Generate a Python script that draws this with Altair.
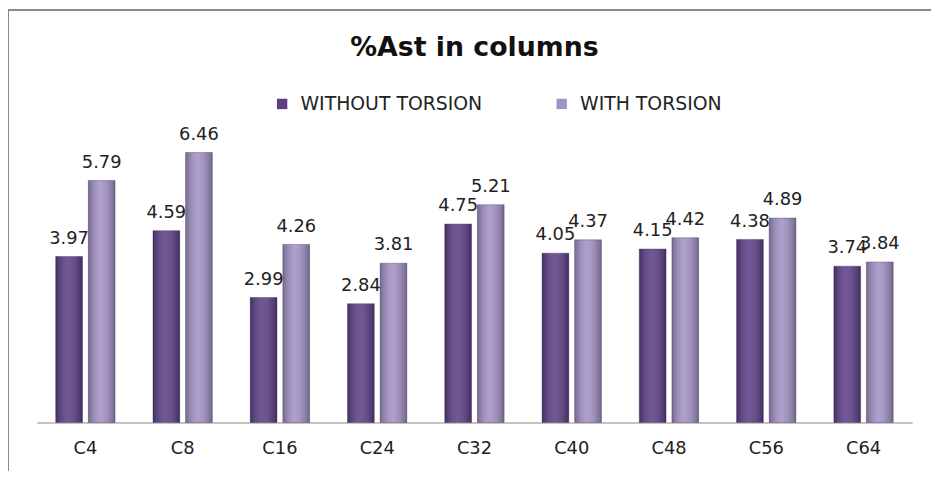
import altair as alt
import pandas as pd

categories = ["C4", "C8", "C16", "C24", "C32", "C40", "C48", "C56", "C64"]
without_torsion = [3.97, 4.59, 2.99, 2.84, 4.75, 4.05, 4.15, 4.38, 3.74]
with_torsion = [5.79, 6.46, 4.26, 3.81, 5.21, 4.37, 4.42, 4.89, 3.84]
series_names = ["WITHOUT TORSION", "WITH TORSION"]
series_colors = ["#5d3f88", "#a392c6"]

rows = []
for c, a, b in zip(categories, without_torsion, with_torsion):
    rows.append({"col": c, "series": series_names[0], "value": a})
    rows.append({"col": c, "series": series_names[1], "value": b})
df = pd.DataFrame(rows)

FONT = "DejaVu Sans"

x_enc = alt.X("col:N", sort=categories, title=None,
              scale=alt.Scale(paddingInner=0.39, paddingOuter=0.195),
              axis=alt.Axis(labelAngle=0, ticks=False, domainColor="#b0b0b0",
                            domainWidth=1.5, labelFontSize=18, labelColor="#222",
                            labelFont=FONT, labelPadding=17, grid=False))
xo_enc = alt.XOffset("series:N", sort=series_names,
                     scale=alt.Scale(domain=series_names, paddingInner=0.18, paddingOuter=0))
y_enc = alt.Y("value:Q", scale=alt.Scale(domain=[0, 7]), axis=None)

base = alt.Chart(df)

bars = base.mark_bar(stroke="#3a2a55", strokeWidth=0.6, strokeOpacity=0.6).encode(
    x=x_enc, xOffset=xo_enc, y=y_enc,
    color=alt.Color("series:N", sort=series_names,
                    scale=alt.Scale(domain=series_names, range=series_colors),
                    legend=alt.Legend(title=None, orient="none", direction="horizontal",
                                      legendX=238, legendY=-36, symbolType="square",
                                      symbolSize=110, symbolStrokeWidth=0,
                                      labelFontSize=19, labelFont=FONT, labelColor="#222",
                                      labelLimit=0, columnPadding=70, labelOffset=9)),
)

shade = base.mark_bar(
    color=alt.Gradient(
        gradient="linear", x1=0, x2=1, y1=0, y2=0,
        stops=[alt.GradientStop(offset=0, color="rgba(0,0,0,0.28)"),
               alt.GradientStop(offset=0.45, color="rgba(255,255,255,0.12)"),
               alt.GradientStop(offset=1, color="rgba(0,0,0,0.3)")]
    )
).encode(x=x_enc, xOffset=xo_enc, y=y_enc)

labels = base.mark_text(baseline="alphabetic", dy=-13, fontSize=18, font=FONT, color="#222").encode(
    x=x_enc, xOffset=xo_enc, y=y_enc,
    text=alt.Text("value:Q", format=".2f"),
)

frame_top = alt.Chart(df).mark_rule(color="#8a8a8a", strokeWidth=2).encode(
    x=alt.value(-29), x2=alt.value(920), y=alt.value(-121))
frame_left = alt.Chart(df).mark_rule(color="#8a8a8a", strokeWidth=2).encode(
    x=alt.value(-29), y=alt.value(-121), y2=alt.value(350))

chart = alt.layer(bars, shade, labels, frame_top, frame_left).properties(
    width=883, height=295,
    title=alt.TitleParams("%Ast in columns", fontSize=27, font=FONT, fontWeight="bold",
                          color="#111", anchor="middle", offset=0, dy=53),
    autosize=alt.AutoSizeParams(type="none"),
    padding={"left": 29, "top": 121, "right": 19, "bottom": 47},
).configure_view(stroke=None)

chart.save("out.html", embed_options={"renderer": "svg", "actions": False})
